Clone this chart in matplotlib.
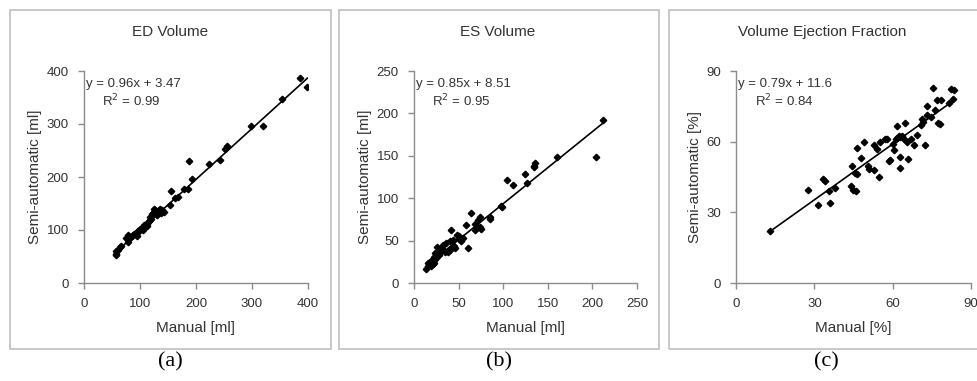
import matplotlib.pyplot as plt
from matplotlib.patches import Rectangle

plt.rcParams['font.family'] = ['Liberation Sans', 'DejaVu Sans']

# ED volume (manual vs semi-automatic), ml
ed_manual = [385, 399, 353, 298, 320, 255, 252, 242, 224, 187, 193, 185, 179, 167, 163,
             156, 154, 136, 138, 132, 127, 130, 124, 121, 118, 120, 115, 112, 110, 108,
             106, 104, 102, 100, 97, 94, 92, 90, 88, 85, 82, 79, 79, 75, 66, 64, 60, 58,
             57, 58, 125, 128, 134, 140, 142, 117, 113, 105, 98, 95]
ed_semi = [386, 369, 347, 297, 297, 259, 253, 232, 224, 231, 196, 177, 177, 163, 161,
           173, 147, 140, 133, 135, 137, 128, 132, 131, 125, 120, 116, 112, 108, 110,
           106, 104, 102, 102, 99, 96, 92, 93, 90, 88, 85, 90, 77, 84, 70, 68, 63, 61,
           55, 52, 140, 130, 138, 137, 134, 118, 108, 100, 98, 88]

# ES volume, ml
es_manual = [212, 204, 160, 136, 135, 134, 124, 127, 104, 111, 98, 99, 85, 85, 74, 72,
             64, 68, 74, 75, 68, 58, 60, 55, 51, 48, 42, 44, 40, 36, 33, 31, 26, 29, 35,
             40, 46, 23, 22, 20, 18, 21, 22, 23, 16, 13, 50, 53, 45, 38, 28, 25, 19]
es_semi = [192, 149, 148, 141, 138, 137, 128, 118, 121, 115, 91, 90, 78, 75, 78, 74,
           82, 70, 66, 64, 63, 68, 41, 53, 55, 57, 62, 51, 49, 47, 45, 41, 42, 37, 37,
           39, 41, 35, 31, 27, 25, 22, 24, 28, 23, 17, 52, 50, 44, 36, 33, 30, 20]

# Ejection fraction, %
ef_manual = [13, 27.5, 31.3, 33.2, 34, 35.5, 36, 37.8, 44, 44.9, 45.8, 44.5, 46.4, 45.4,
             46.4, 48, 49, 50.5, 50.9, 53, 54.7, 52.8, 54.1, 55.1, 56.9, 57.9, 58.6,
             58.9, 60.5, 60.3, 61.2, 61.8, 62.4, 63, 63.7, 61.5, 64.7, 62.8, 63, 66,
             64.4, 65.4, 66.9, 68, 69.5, 70.8, 71.8, 72.3, 73.3, 73.3, 74.6, 75.3, 76.2,
             77.2, 78.2, 76.9, 78.5, 81.7, 83, 83.3, 82.3, 71.4]
ef_semi = [22, 39.6, 33, 44.3, 43.3, 39, 34, 40.3, 41, 39.6, 38.9, 49.5, 57.3, 46.7,
           46.4, 53, 59.9, 49.5, 48.5, 48, 45.2, 58.4, 57, 59.9, 61.3, 61.3, 52, 52.3,
           56.5, 59, 61.3, 61.7, 62.3, 62, 62.6, 66.5, 67.9, 53.4, 49, 52.6, 61.3,
           59.9, 61.3, 58.4, 62.7, 67, 68.4, 58.4, 71.2, 75, 70.5, 82.6, 73.4, 68,
           67.7, 77.6, 77.6, 76.5, 78, 82, 82.3, 69.8]

titles = ['ED Volume', 'ES Volume', 'Volume Ejection Fraction']
xlabels = ['Manual [ml]', 'Manual [ml]', 'Manual [%]']
ylabels = ['Semi-automatic [ml]', 'Semi-automatic [ml]', 'Semi-automatic [%]']
slopes = [0.96, 0.85, 0.79]
intercepts = [3.47, 8.51, 11.6]
eq_texts = ['y = 0.96x + 3.47', 'y = 0.85x + 8.51', 'y = 0.79x + 11.6']
r2_texts = ['R$^2$ = 0.99', 'R$^2$ = 0.95', 'R$^2$ = 0.84']
limits = [400, 250, 90]
steps = [100, 50, 30]
panel_tags = ['(a)', '(b)', '(c)']

W, H = 978, 381
fig = plt.figure(figsize=(W / 100, H / 100), dpi=100)

# pixel layout: panel boxes and axes
boxes = [(10, 331), (339, 659), (669, 990)]
axes_px = [(84, 308), (414, 637), (736, 971)]
title_x = [170, 498, 822]
tag_x = [170, 499, 826]
ax_top, ax_bot = 71, 283

datasets = [(ed_manual, ed_semi), (es_manual, es_semi), (ef_manual, ef_semi)]
grey = '#8c8c8c'
txt = '#333333'

for i in range(3):
    bx0, bx1 = boxes[i]
    fig.patches.append(Rectangle((bx0 / W, 1 - 349 / H), (bx1 - bx0) / W, (349 - 10) / H,
                                 transform=fig.transFigure, fill=False,
                                 edgecolor='#c4c4c4', linewidth=1.3))
    x0, x1 = axes_px[i]
    ax = fig.add_axes([x0 / W, 1 - ax_bot / H, (x1 - x0) / W, (ax_bot - ax_top) / H])
    xs, ys = datasets[i]
    ax.plot(xs, ys, 'D', color='black', markersize=3.3, zorder=3)
    lo, hi = min(xs), max(xs)
    ax.plot([lo, hi], [slopes[i] * lo + intercepts[i], slopes[i] * hi + intercepts[i]],
            color='black', linewidth=1.2, zorder=2)
    lim = limits[i]
    ax.set_xlim(0, lim)
    ax.set_ylim(0, lim)
    ticks = list(range(0, lim + 1, steps[i]))
    ax.set_xticks(ticks)
    ax.set_yticks(ticks)
    for s in ['top', 'right']:
        ax.spines[s].set_visible(False)
    for s in ['left', 'bottom']:
        ax.spines[s].set_color(grey)
        ax.spines[s].set_linewidth(1.0)
    ax.tick_params(direction='out', length=4, width=1, color=grey, labelcolor=txt,
                   labelsize=9.5, pad=7)
    ax.set_xlabel(xlabels[i], fontsize=11, color=txt, labelpad=8)
    ax.set_ylabel(ylabels[i], fontsize=11, color=txt, labelpad=3)
    ax.text(0.01, 0.94, eq_texts[i], transform=ax.transAxes, fontsize=9.5, color=txt,
            ha='left', va='center')
    ax.text(0.08, 0.86, r2_texts[i], transform=ax.transAxes, fontsize=9.5, color=txt,
            ha='left', va='center')
    fig.text(title_x[i] / W, 1 - 32 / H, titles[i],
             fontsize=11, color=txt, ha='center', va='center')
    fig.text(tag_x[i] / W, 1 - 362 / H, panel_tags[i],
             family='Liberation Serif', fontsize=16, color='black', ha='center', va='center')

fig.savefig('out.png', dpi=100)
